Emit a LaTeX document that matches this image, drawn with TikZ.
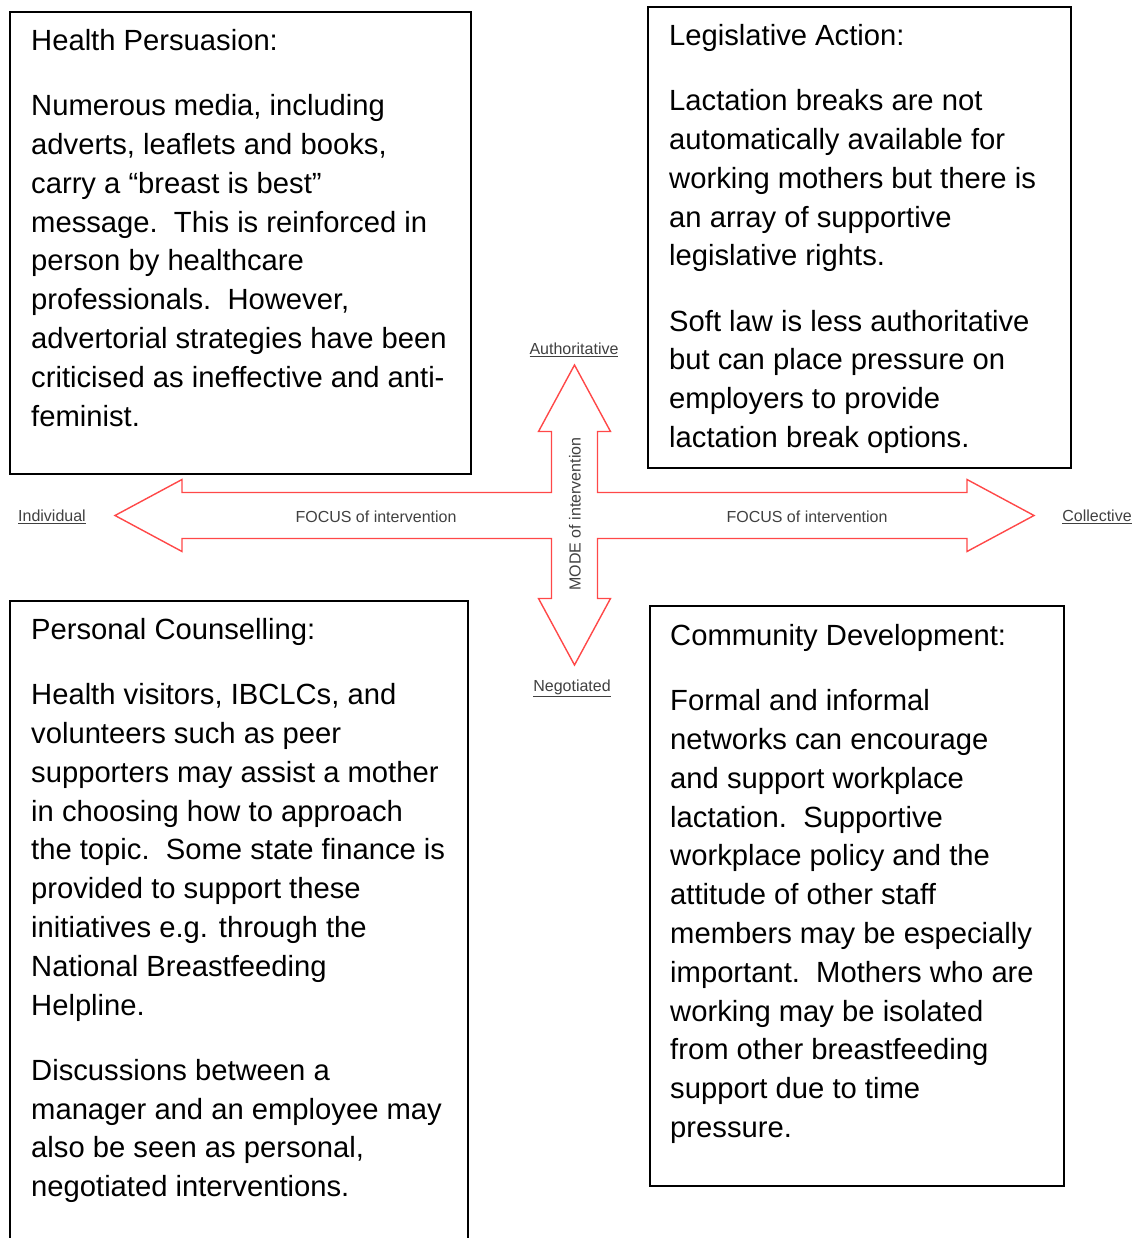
\documentclass[tikz,border=0pt]{standalone}
\usepackage{fontspec}
\setmainfont{Liberation Sans}
\definecolor{arrowred}{RGB}{255,72,72}
\tikzset{
  frame/.style={line width=1.8pt},
  boxtext/.style={anchor=north west, inner sep=0pt, align=left,
    font=\fontsize{29.2}{38.8}\selectfont},
  axislabel/.style={inner sep=0pt, text=black!75, font=\fontsize{16}{19}\selectfont},
  arrowline/.style={draw=arrowred, line width=1.4pt, line join=miter}
}
\begin{document}
\begin{tikzpicture}[x=1pt,y=-1pt]
  \clip (0,0) rectangle (1143,1238);
  \draw[frame] (10,12) rectangle (471,474);
  \draw[frame] (648,7) rectangle (1071,468);
  \draw[frame] (10,1260) |- (468,601) -- (468,1260);
  \draw[frame] (650,606) rectangle (1064,1186);
  \node[boxtext] (hp) at (31,29) {Health Persuasion:\\[26.5pt]
    Numerous media, including\\
    adverts, leaflets and books,\\
    carry a “breast is best”\\
    message.\ \ This is reinforced in\\
    person by healthcare\\
    professionals.\ \ However,\\
    advertorial strategies have been\\
    criticised as ineffective and anti-\\
    feminist.};
  \node[boxtext] (la) at (669,24) {Legislative Action:\\[26.5pt]
    Lactation breaks are not\\
    automatically available for\\
    working mothers but there is\\
    an array of supportive\\
    legislative rights.\\[26.5pt]
    Soft law is less authoritative\\
    but can place pressure on\\
    employers to provide\\
    lactation break options.};
  \node[boxtext] (pc) at (31,618) {Personal Counselling:\\[26.5pt]
    Health visitors, IBCLCs, and\\
    volunteers such as peer\\
    supporters may assist a mother\\
    in choosing how to approach\\
    the topic.\ \ Some state finance is\\
    provided to support these\\
    initiatives e.g. through the\\
    National Breastfeeding\\
    Helpline.\\[26.5pt]
    Discussions between a\\
    manager and an employee may\\
    also be seen as personal,\\
    negotiated interventions.};
  \node[boxtext] (cd) at (670,624) {Community Development:\\[26.5pt]
    Formal and informal\\
    networks can encourage\\
    and support workplace\\
    lactation.\ \ Supportive\\
    workplace policy and the\\
    attitude of other staff\\
    members may be especially\\
    important.\ \ Mothers who are\\
    working may be isolated\\
    from other breastfeeding\\
    support due to time\\
    pressure.};
  \draw[arrowline] (115,515.5) -- (182,479.5) -- (182,492.5) -- (551.5,492.5)
    -- (551.5,431.5) -- (538.5,431.5) -- (574.5,365) -- (610.5,431.5)
    -- (597.5,431.5) -- (597.5,492.5) -- (967,492.5) -- (967,479.5)
    -- (1034,515.5) -- (967,551.5) -- (967,538.5) -- (597.5,538.5)
    -- (597.5,598.5) -- (610.5,598.5) -- (574.5,665) -- (538.5,598.5)
    -- (551.5,598.5) -- (551.5,538.5) -- (182,538.5) -- (182,551.5) -- cycle;
  \node[axislabel] (indiv) at (52,517) {\underline{Individual}};
  \node[axislabel] (coll) at (1097,517) {\underline{Collective}};
  \node[axislabel] (auth) at (574,350) {\underline{Authoritative}};
  \node[axislabel] (negot) at (572,688) {\underline{Negotiated}};
  \node[axislabel] (focusl) at (376,517) {FOCUS of intervention};
  \node[axislabel] (focusr) at (807,517) {FOCUS of intervention};
  \node[axislabel, rotate=90] (mode) at (575,514) {MODE of intervention};
\end{tikzpicture}
\end{document}
